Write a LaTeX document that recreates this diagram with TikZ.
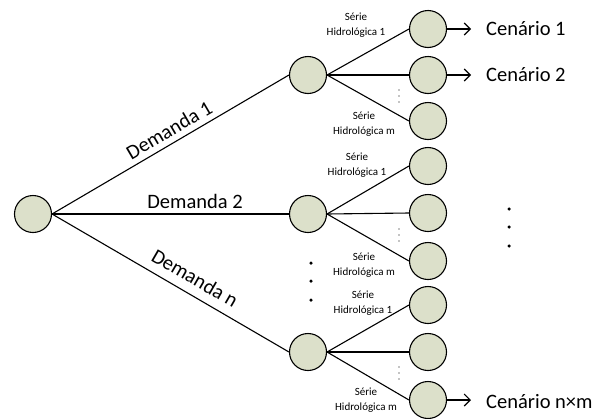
\documentclass[tikz,border=0pt]{standalone}
\usepackage{fontspec}
\setmainfont{Carlito}
\usetikzlibrary{arrows.meta}
\definecolor{nodefill}{RGB}{220,224,202}
\tikzset{
  st/.style={circle,draw=black,line width=1.1pt,fill=nodefill,minimum size=37pt,inner sep=0pt},
  conn/.style={line width=1.1pt},
  arr/.style={line width=1.1pt,-{Straight Barb[length=6pt,width=12pt,line width=1.1pt]}},
  big/.style={font=\fontsize{20.5}{24}\selectfont},
  small/.style={font=\fontsize{11}{15}\selectfont,align=center,inner sep=0pt},
  bdot/.style={circle,fill=black,inner sep=0pt,minimum size=3.5pt},
  sdot/.style={circle,fill=black,inner sep=0pt,minimum size=1.3pt}
}
\begin{document}
\begin{tikzpicture}[x=1pt,y=-1pt]
\useasboundingbox (0,0) rectangle (593,418);
% nodes
\node[st] (r) at (33,214) {};
\node[st] (m1) at (308,75) {};
\node[st] (m2) at (308,214) {};
\node[st] (m3) at (308,352) {};
\node[st] (a1) at (428,29) {};
\node[st] (a2) at (428,75) {};
\node[st] (a3) at (428,121) {};
\node[st] (b1) at (428,166) {};
\node[st] (b2) at (428,213) {};
\node[st] (b3) at (428,261) {};
\node[st] (c1) at (428,305) {};
\node[st] (c2) at (428,352) {};
\node[st] (c3) at (428,400) {};
% root connectors
\draw[conn] (r.east) -- (m1.west);
\draw[conn] (r.east) -- (m2.west);
\draw[conn] (r.east) -- (m3.west);
\node[big,rotate=30.3,inner sep=0pt] (d1) at (169,130) {Demanda 1};
\node[big,inner sep=0pt] (d2) at (195,201) {Demanda 2};
\node[big,rotate=-30.1,inner sep=0pt] (dn) at (195,278) {Demanda n};
% branch connectors
\foreach \m/\x/\y/\z in {m1/a1/a2/a3,m2/b1/b2/b3,m3/c1/c2/c3}{
  \draw[conn] (\m.east) -- (\x.west);
  \draw[conn] (\m.east) -- (\y.west);
  \draw[conn] (\m.east) -- (\z.west);
}
% scenario arrows
\coordinate (e1) at (471,29);
\coordinate (e2) at (471,75);
\coordinate (e3) at (471,400);
\draw[arr] (a1.east) -- (e1);
\draw[arr] (a2.east) -- (e2);
\draw[arr] (c3.east) -- (e3);
\node[big,anchor=west,inner sep=0pt] (t1) at (486,29) {Cenário 1};
\node[big,anchor=west,inner sep=0pt] (t2) at (486,75) {Cenário 2};
\node[big,anchor=west,inner sep=0pt] (t3) at (486,402) {Cenário n×m};
% series labels
\node[small] (s1) at (356,25) {Série\\Hidrológica 1};
\node[small] (s2) at (364,124) {Série\\Hidrológica m};
\node[small] (s3) at (357,165) {Série\\Hidrológica 1};
\node[small] (s4) at (364,265) {Série\\Hidrológica m};
\node[small] (s5) at (363,303) {Série\\Hidrológica 1};
\node[small] (s6) at (366,400) {Série\\Hidrológica m};
% small vertical dots
\foreach \yy [count=\i] in {75,214,352}{
  \node[sdot] (p\i a) at (399,\yy+15) {};
  \node[sdot] (p\i b) at (399,\yy+21) {};
  \node[sdot] (p\i c) at (399,\yy+27) {};
}
% big dots
\node[bdot] (l1) at (311,263) {};
\node[bdot] (l2) at (311,281) {};
\node[bdot] (l3) at (311,300) {};
\node[bdot] (q1) at (509,209) {};
\node[bdot] (q2) at (509,227) {};
\node[bdot] (q3) at (509,246) {};
\end{tikzpicture}
\end{document}
